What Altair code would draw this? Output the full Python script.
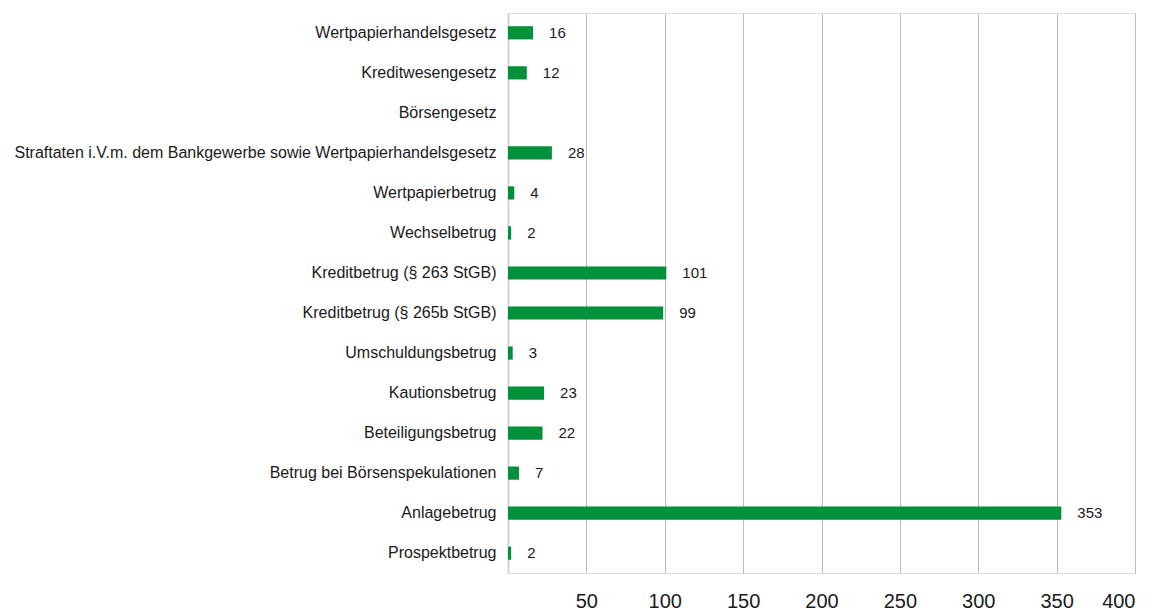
import altair as alt
import pandas as pd

categories = [
    "Wertpapierhandelsgesetz",
    "Kreditwesengesetz",
    "Börsengesetz",
    "Straftaten i.V.m. dem Bankgewerbe sowie Wertpapierhandelsgesetz",
    "Wertpapierbetrug",
    "Wechselbetrug",
    "Kreditbetrug (§ 263 StGB)",
    "Kreditbetrug (§ 265b StGB)",
    "Umschuldungsbetrug",
    "Kautionsbetrug",
    "Beteiligungsbetrug",
    "Betrug bei Börsenspekulationen",
    "Anlagebetrug",
    "Prospektbetrug",
]
values = [16, 12, 0, 28, 4, 2, 101, 99, 3, 23, 22, 7, 353, 2]
tick_values = [50, 100, 150, 200, 250, 300, 350, 400]

df = pd.DataFrame({"Kategorie": categories, "Wert": values})

FONT = "Liberation Sans"
GREEN = "#00913A"

y_enc = alt.Y(
    "Kategorie:N",
    sort=categories,
    title=None,
    scale=alt.Scale(paddingInner=0.67, paddingOuter=0.33),
    axis=alt.Axis(
        ticks=False,
        domain=True,
        domainColor="#d4d4d4",
        domainWidth=2,
        labelFont=FONT,
        labelFontSize=16,
        labelColor="#1a1a1a",
        labelPadding=12,
        labelLimit=600,
    ),
)
x_enc = alt.X(
    "Wert:Q",
    title=None,
    scale=alt.Scale(domain=[0, 400], nice=False),
    axis=alt.Axis(
        values=tick_values,
        ticks=False,
        domain=False,
        grid=True,
        gridColor="#bdbdbd",
        gridWidth=1,
        labelFont=FONT,
        labelFontSize=20,
        labelColor="#1a1a1a",
        labelPadding=18,
    ),
)

bars = alt.Chart(df).mark_bar(color=GREEN).encode(x=x_enc, y=y_enc)

labels = (
    alt.Chart(df)
    .transform_filter(alt.datum.Wert > 0)
    .mark_text(align="left", baseline="middle", dx=16, font=FONT, fontSize=15, color="#1a1a1a")
    .encode(x="Wert:Q", y=alt.Y("Kategorie:N", sort=categories), text="Wert:Q")
)

chart = (
    alt.layer(bars, labels)
    .properties(width=627, height=560)
    .configure_view(strokeWidth=0)
    .configure(background="white")
)

chart.save("out.html", embed_options={"renderer": "svg", "actions": False})
